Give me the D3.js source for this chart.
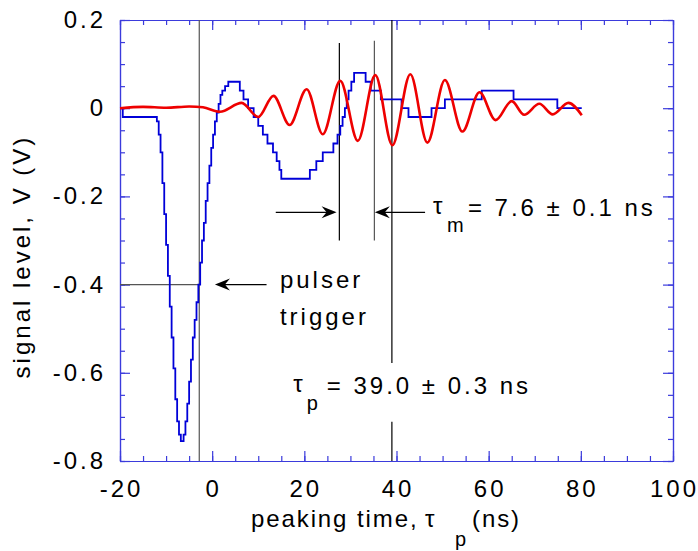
<!DOCTYPE html>
<html>
<head>
<meta charset="utf-8">
<script src="https://cdn.jsdelivr.net/npm/d3@7"></script>
<style>
  body { margin: 0; background: #fff; }
  text { font-family: Arial, "Liberation Sans", sans-serif; fill: #000; }
</style>
</head>
<body>
<div id="chart"></div>
<script>
// Data
const xTicks = [-20, 0, 20, 40, 60, 80, 100]
const yTicks = [0.2, 0, -0.2, -0.4, -0.6, -0.8]
const yTickLabels = ['0.2', '0', '-0.2', '-0.4', '-0.6', '-0.8']

const pulseTime = [-20, -19.4, -12.0, -11.6, -11.2, -10.8, -10.4, -10.0, -9.6, -9.2, -8.8, -8.4, -8.0, -7.6, -7.2, -6.8,
  -6.2, -5.8, -5.4, -5.0, -4.6, -4.2, -3.8, -3.4, -3.0, -2.6, -2.2, -1.8, -1.4, -1.0, -0.6, -0.2, 0.2, 0.6, 1.0, 1.4,
  1.8, 2.2, 2.8, 3.5, 6.0, 6.8, 7.8, 9.0, 10.0, 11.0, 12.0, 13.2, 14.0, 14.6, 15.0, 21.2, 22.6, 24.0, 26.3, 27.2, 27.8,
  28.3, 28.8, 29.2, 29.6, 30.2, 30.8, 33.3, 34.4, 36.6, 41.1, 42.6, 47.6, 50.5, 58.5, 65.4, 74.9, 80.2]
const pulseLevel = [0, -0.02, -0.03, -0.06, -0.10, -0.17, -0.24, -0.31, -0.38, -0.45, -0.52, -0.59, -0.66, -0.71, -0.74, -0.755,
  -0.74, -0.71, -0.67, -0.62, -0.57, -0.52, -0.48, -0.44, -0.40, -0.35, -0.30, -0.26, -0.21, -0.17, -0.13, -0.09, -0.06, -0.03, -0.01, 0.01,
  0.03, 0.04, 0.05, 0.06, 0.04, 0.02, 0.0, -0.02, -0.04, -0.06, -0.08, -0.10, -0.12, -0.14, -0.16, -0.14, -0.12, -0.10, -0.08, -0.06, -0.04,
  -0.02, 0.0, 0.02, 0.04, 0.06, 0.08, 0.06, 0.04, 0.02, 0.0, -0.02, 0.0, 0.02, 0.04, 0.02, 0.0, 0.0]

// red trace (ringing): extrema
const ringTime = [-20, -15, -10, -5, -2, 1.7, 6.4, 10.0, 13.3, 16.8, 20.5, 24.0, 27.8, 31.6, 35.4, 39.1, 43.0, 46.7,
  50.5, 54.3, 58.0, 61.5, 65.0, 67.7, 71.0, 73.9, 77.3, 80.2]
const ringLevel = [0, 0.003, 0.001, 0.004, 0.002, -0.008, 0.012, -0.02, 0.028, -0.038, 0.043, -0.059, 0.062, -0.074, 0.075,
  -0.084, 0.077, -0.078, 0.064, -0.053, 0.036, -0.027, 0.016, -0.015, 0.01, -0.014, 0.012, -0.016]

// markers (ns / V)
const triggerTime = -2.8
const triggerLevel = -0.4
const measureStart = 27.6
const measureEnd = 35.2
const peakTime = 39.0

async function draw() {
  const pulse = d3.zip(pulseTime, pulseLevel)
  const ring = d3.zip(ringTime, ringLevel)

  // Dimensions
  let dimensions = {
    width: 698,
    height: 551,
    margins: { top: 20, right: 25, bottom: 90, left: 120 },
  }
  dimensions.ctrWidth = dimensions.width - dimensions.margins.left - dimensions.margins.right
  dimensions.ctrHeight = dimensions.height - dimensions.margins.top - dimensions.margins.bottom

  const fontSize = 24
  const spacing = 3
  const axisColor = '#3b3bdc'

  const svg = d3.select('#chart')
    .append('svg')
    .attr('width', dimensions.width)
    .attr('height', dimensions.height)

  const ctr = svg.append('g')
    .attr('transform', `translate(${dimensions.margins.left}, ${dimensions.margins.top})`)

  // Scales
  const xScale = d3.scaleLinear()
    .domain([-20, 100])
    .range([0, dimensions.ctrWidth])

  const yScale = d3.scaleLinear()
    .domain([-0.8, 0.2])
    .range([dimensions.ctrHeight, 0])

  // Axes: minor + major ticks, pointing inward on all four sides
  const xMinor = d3.range(-20, 101, 5)
  const yMinor = d3.range(-0.8, 0.2001, 0.05)

  const axes = [
    { ax: d3.axisBottom(xScale), t: `translate(0, ${dimensions.ctrHeight})`, minor: xMinor, major: xTicks },
    { ax: d3.axisTop(xScale), t: 'translate(0, 0)', minor: xMinor, major: xTicks },
    { ax: d3.axisLeft(yScale), t: 'translate(0, 0)', minor: yMinor, major: yTicks },
    { ax: d3.axisRight(yScale), t: `translate(${dimensions.ctrWidth}, 0)`, minor: yMinor, major: yTicks },
  ]

  axes.forEach(a => {
    const minorAxis = a.ax.tickValues(a.minor).tickSize(-5).tickSizeOuter(0).tickFormat('')
    ctr.append('g').attr('transform', a.t).call(minorAxis)
    const majorAxis = a.ax.tickValues(a.major).tickSize(-10).tickSizeOuter(0).tickFormat('')
    ctr.append('g').attr('transform', a.t).call(majorAxis)
  })
  ctr.selectAll('.domain, .tick line')
    .attr('stroke', axisColor)
    .attr('stroke-width', 1.2)

  // tick labels
  ctr.append('g')
    .selectAll('text')
    .data(xTicks)
    .join('text')
    .attr('x', d => xScale(d) + spacing / 2)
    .attr('y', dimensions.ctrHeight + 36)
    .attr('text-anchor', 'middle')
    .style('font-size', `${fontSize}px`)
    .style('letter-spacing', `${spacing}px`)
    .text(d => d)

  ctr.append('g')
    .selectAll('text')
    .data(yTicks)
    .join('text')
    .attr('x', -17 + spacing)
    .attr('y', d => yScale(d) + 8)
    .attr('text-anchor', 'end')
    .style('font-size', `${fontSize}px`)
    .style('letter-spacing', `${spacing}px`)
    .text((d, i) => yTickLabels[i])

  // Axis titles
  const xTitle = ctr.append('text')
    .attr('x', 131)
    .attr('y', dimensions.ctrHeight + 66)
    .style('font-size', `${fontSize}px`)
    .style('letter-spacing', '1.9px')
  xTitle.append('tspan').text('peaking time,')
  xTitle.append('tspan').attr('x', 305).text('τ')
  xTitle.append('tspan').attr('x', 335).attr('dy', 19).style('font-size', '20px').text('p')
  xTitle.append('tspan').attr('x', 352).attr('dy', -19).text('(ns)')

  ctr.append('text')
    .attr('transform', `translate(${30 - dimensions.margins.left}, ${dimensions.ctrHeight / 2 + 16}) rotate(-90)`)
    .attr('text-anchor', 'middle')
    .style('font-size', `${fontSize}px`)
    .style('letter-spacing', `${spacing}px`)
    .text('signal level, V (V)')

  // Marker lines
  const clipLine = (x1, y1, x2, y2, color) => ctr.append('line')
    .attr('x1', xScale(x1)).attr('y1', yScale(y1))
    .attr('x2', xScale(x2)).attr('y2', yScale(y2))
    .attr('stroke', color)
    .attr('stroke-width', 1.2)

  clipLine(triggerTime, 0.2, triggerTime, -0.8, '#555')
  clipLine(-20, triggerLevel, triggerTime, triggerLevel, '#555')
  clipLine(measureStart, 0.148, measureStart, -0.3, '#000')
  clipLine(measureEnd, 0.153, measureEnd, -0.3, '#555')
  clipLine(peakTime, 0.2, peakTime, -0.578, '#000')
  clipLine(peakTime, -0.711, peakTime, -0.8, '#000')

  // Traces
  const pulseLine = d3.line()
    .x(d => xScale(d[0]))
    .y(d => yScale(d[1]))
    .curve(d3.curveStepAfter)

  const ringLine = d3.line()
    .x(d => xScale(d[0]))
    .y(d => yScale(d[1]))
    .curve(d3.curveMonotoneX)

  ctr.append('path')
    .datum(pulse)
    .attr('d', pulseLine)
    .attr('fill', 'none')
    .attr('stroke', '#0000d8')
    .attr('stroke-width', 1.8)

  ctr.append('path')
    .datum(ring)
    .attr('d', ringLine)
    .attr('fill', 'none')
    .attr('stroke', '#ee0000')
    .attr('stroke-width', 2.6)

  // Arrows
  const arrows = [
    { from: [11.8, triggerLevel], to: [0.6, triggerLevel] },
    { from: [13.8, -0.236], to: [measureStart - 0.6, -0.236] },
    { from: [46.2, -0.236], to: [measureEnd + 0.1, -0.236] },
  ]

  const arrowGroup = ctr.append('g')
  arrows.forEach(a => {
    const x1 = xScale(a.from[0]), y1 = yScale(a.from[1])
    const x2 = xScale(a.to[0]), y2 = yScale(a.to[1])
    const dir = x2 > x1 ? 1 : -1
    arrowGroup.append('line')
      .attr('x1', x1).attr('y1', y1)
      .attr('x2', x2 - dir * 8).attr('y2', y2)
      .attr('stroke', '#000')
      .attr('stroke-width', 1.2)
    arrowGroup.append('path')
      .attr('d', 'M0,0 L-15,-6 L-10,0 L-15,6 Z')
      .attr('transform', `translate(${x2}, ${y2}) scale(${dir}, 1)`)
      .attr('fill', '#000')
  })

  // Labels
  const addLabel = (t, v, lines) => {
    const txt = ctr.append('text')
      .attr('x', xScale(t))
      .attr('y', yScale(v))
      .style('font-size', `${fontSize}px`)
      .style('letter-spacing', `${spacing}px`)
    lines.forEach((l, i) => txt.append('tspan')
      .attr('x', xScale(t))
      .attr('y', yScale(v) + i * 37)
      .text(l))
  }
  addLabel(14.7, -0.408, ['pulser', 'trigger'])

  const addTau = (t, v, sub, rest, subGap, restGap) => {
    const x0 = xScale(t), y0 = yScale(v)
    const txt = ctr.append('text')
      .style('font-size', `${fontSize}px`)
      .style('letter-spacing', `${spacing}px`)
    txt.append('tspan').attr('x', x0).attr('y', y0 - 2).text('τ')
    txt.append('tspan').attr('x', x0 + subGap).attr('y', y0 + 16).style('font-size', '20px').text(sub)
    txt.append('tspan').attr('x', x0 + restGap).attr('y', y0).text(rest)
  }
  addTau(47.9, -0.244, 'm', '= 7.6 ± 0.1 ns', 14, 35)
  addTau(17.6, -0.648, 'p', '= 39.0 ± 0.3 ns', 13.5, 33.5)
}

draw()
</script>
</body>
</html>
